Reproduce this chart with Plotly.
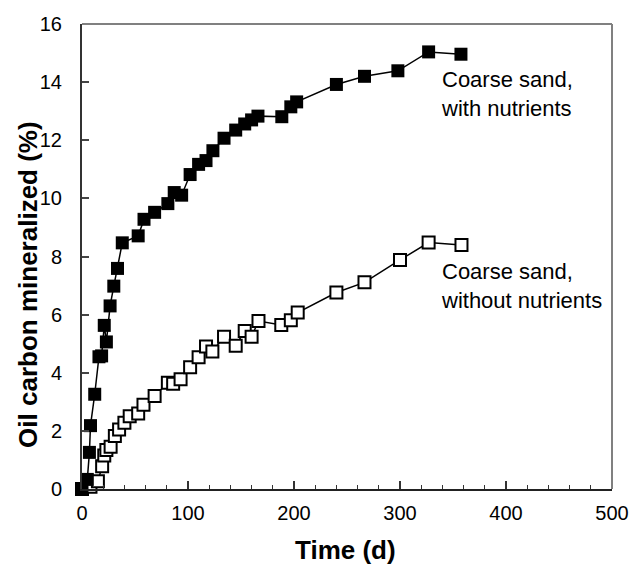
import plotly.graph_objects as go

# With nutrients (filled squares)
t_with = [0, 5, 7, 8, 12, 16, 18.5, 21, 23, 26.5, 30, 33.5, 38, 53, 58.5, 68.5, 81,
          87, 94, 102, 110, 117, 123.5, 134, 145, 153.5, 160, 166, 188.5, 197, 202.5,
          240, 266.5, 298, 327, 357.5]
y_with = [0, 0.33, 1.26, 2.18, 3.26, 4.55, 4.58, 5.63, 5.06, 6.3, 6.98, 7.59, 8.47,
          8.71, 9.28, 9.52, 9.82, 10.2, 10.11, 10.82, 11.17, 11.3, 11.64, 12.07, 12.35,
          12.56, 12.7, 12.83, 12.81, 13.15, 13.32, 13.92, 14.2, 14.39, 15.04, 14.96]

# Without nutrients (open squares)
t_without = [0, 8, 15, 19, 21, 23, 27, 31, 35, 40, 45, 53, 58, 68.5, 81, 86, 93, 102,
             110, 117, 123, 134, 145, 153.5, 160, 166.5, 188, 197, 203.5, 240, 266.5,
             300, 327, 358]
y_without = [0, 0.08, 0.27, 0.78, 1.15, 1.34, 1.45, 1.82, 2.05, 2.28, 2.5, 2.6, 2.9,
             3.2, 3.66, 3.62, 3.78, 4.19, 4.53, 4.9, 4.73, 5.24, 4.93, 5.44, 5.24, 5.78,
             5.64, 5.81, 6.07, 6.76, 7.11, 7.88, 8.48, 8.4]

label_with = "Coarse sand,<br>with nutrients"
label_without = "Coarse sand,<br>without nutrients"
x_title = "<b>Time (d)</b>"
y_title = "<b>Oil carbon mineralized (%)</b>"

FONT = "Liberation Sans, Arial, sans-serif"

fig = go.Figure()
fig.add_trace(go.Scatter(
    x=t_without, y=y_without, mode="lines+markers",
    line=dict(color="black", width=1.5),
    marker=dict(symbol="square", size=12, color="white",
                line=dict(color="black", width=2)),
    cliponaxis=False, showlegend=False))
fig.add_trace(go.Scatter(
    x=t_with, y=y_with, mode="lines+markers",
    line=dict(color="black", width=1.5),
    marker=dict(symbol="square", size=13, color="black",
                line=dict(color="black", width=0)),
    cliponaxis=False, showlegend=False))

fig.add_annotation(x=0.674, y=0.8505, xref="paper", yref="paper", text=label_with,
                   showarrow=False, xanchor="left", yanchor="middle", align="left",
                   font=dict(family=FONT, size=22, color="black"))
fig.add_annotation(x=0.674, y=0.4355, xref="paper", yref="paper", text=label_without,
                   showarrow=False, xanchor="left", yanchor="middle", align="left",
                   font=dict(family=FONT, size=22, color="black"))

# axis titles
fig.add_annotation(x=0.497, y=-0.131, xref="paper", yref="paper", text=x_title,
                   showarrow=False, xanchor="center", yanchor="middle",
                   font=dict(family=FONT, size=26, color="black"))
fig.add_annotation(x=-0.102, y=0.441, xref="paper", yref="paper", text=y_title,
                   showarrow=False, xanchor="center", yanchor="middle", textangle=-90,
                   font=dict(family=FONT, size=26, color="black"))

# gray top and right frame
fig.add_shape(type="line", xref="paper", yref="paper", x0=0, x1=1, y0=1, y1=1,
              line=dict(color="#808080", width=2))
fig.add_shape(type="line", xref="paper", yref="paper", x0=1, x1=1, y0=0, y1=1,
              line=dict(color="#808080", width=2))

fig.update_layout(
    width=632, height=568,
    margin=dict(l=82, r=20, t=24, b=79),
    paper_bgcolor="white", plot_bgcolor="white",
    font=dict(family=FONT, size=21, color="black"),
    xaxis=dict(
        range=[0, 500], tickmode="linear", tick0=0, dtick=100,
        ticks="inside", ticklen=8, tickwidth=1.5, tickcolor="#333",
        showline=True, linecolor="#222", linewidth=2,
        showgrid=False, zeroline=False, automargin=False,
        minor=dict(ticks="inside", dtick=20, ticklen=4, tickwidth=1, tickcolor="#333"),
        tickfont=dict(family=FONT, size=20),
        ticklabelstandoff=5,
    ),
    yaxis=dict(
        range=[0, 16], tickmode="linear", tick0=0, dtick=2,
        ticks="inside", ticklen=7, tickwidth=1.5, tickcolor="#444",
        showline=True, linecolor="#333", linewidth=2,
        showgrid=False, zeroline=False, automargin=False,
        tickfont=dict(family=FONT, size=20),
        ticklabelstandoff=14,
    ),
)

fig.write_html("out.html")
